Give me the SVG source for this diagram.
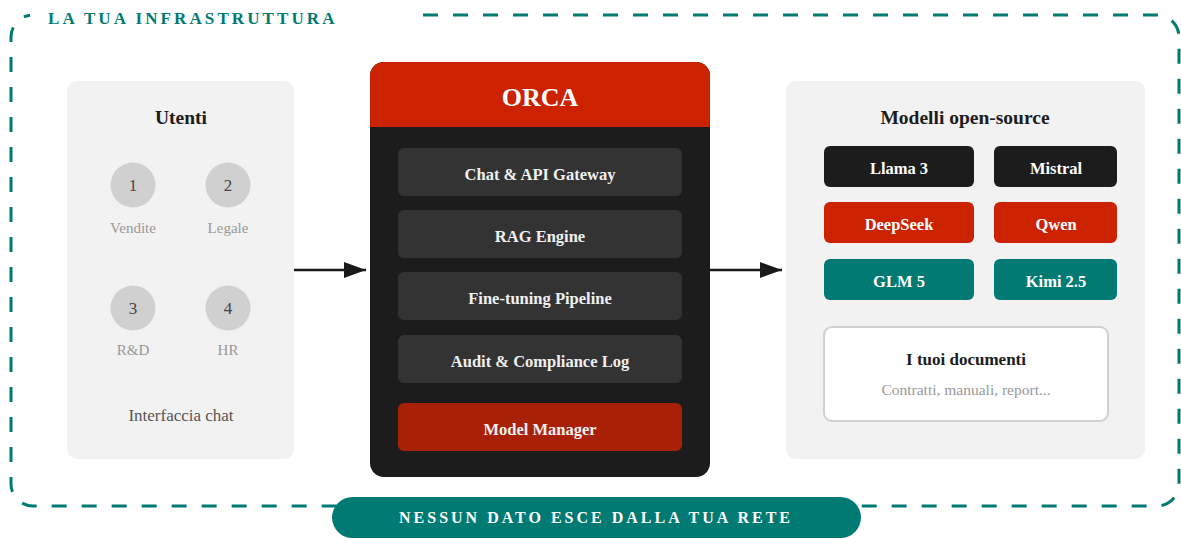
<svg xmlns="http://www.w3.org/2000/svg" width="1181" height="539" viewBox="0 0 1181 539">
<defs>
<style>
text{font-family:"Liberation Serif","DejaVu Serif",serif;text-anchor:middle}
.panel{fill:#f2f2f2}
.item{fill:#333333}
.itxt{fill:#f0f0f0;font-size:16.5px;font-weight:bold}
.mtxt{fill:#ffffff;font-size:16.5px;font-weight:bold}
.circ{fill:#d0d0d0}
.num{fill:#444;font-size:17px}
.dep{fill:#999;font-size:15px}
.title{fill:#1c1c1c;font-size:19.5px;font-weight:bold}
</style>
<marker id="ah" viewBox="0 0 22 16" refX="22" refY="8" markerWidth="22" markerHeight="16" markerUnits="userSpaceOnUse" orient="auto">
<path d="M0,0 L22,8 L0,16 Z" fill="#1a1a1a"/>
</marker>
</defs>
<rect width="1181" height="539" fill="#ffffff"/>
<g id="boundary">
<rect x="11" y="15" width="1168" height="491" rx="22" fill="none" stroke="#007a73" stroke-width="3" stroke-dasharray="15 15"/>
<rect x="30" y="4" width="378" height="24" fill="#ffffff"/>
<text x="48" y="24" style="text-anchor:start;font-size:17px;font-weight:bold;letter-spacing:3.1px;fill:#007a73">LA TUA INFRASTRUTTURA</text>
</g>
<g id="utenti">
<rect class="panel" x="67" y="81" width="227" height="378" rx="10"/>
<text class="title" x="181" y="124">Utenti</text>
<circle class="circ" cx="133" cy="185" r="22.5"/>
<text class="num" x="133" y="191">1</text>
<text class="dep" x="133" y="233">Vendite</text>
<circle class="circ" cx="228" cy="185" r="22.5"/>
<text class="num" x="228" y="191">2</text>
<text class="dep" x="228" y="233">Legale</text>
<circle class="circ" cx="133" cy="308" r="22.5"/>
<text class="num" x="133" y="314">3</text>
<text class="dep" x="133" y="355">R&amp;D</text>
<circle class="circ" cx="228" cy="308" r="22.5"/>
<text class="num" x="228" y="314">4</text>
<text class="dep" x="228" y="355">HR</text>
<text x="181" y="421" style="fill:#555;font-size:17px">Interfaccia chat</text>
</g>
<g id="orca">
<rect x="370" y="62" width="340" height="415" rx="14" fill="#1c1c1c"/>
<path d="M370,127 V76 A14,14 0 0 1 384,62 H696 A14,14 0 0 1 710,76 V127 Z" fill="#cc2200"/>
<text x="540" y="106" style="fill:#fff;font-size:26px;font-weight:bold">ORCA</text>
<rect class="item" x="398" y="148" width="284" height="48" rx="6"/>
<text class="itxt" x="540" y="180">Chat &amp; API Gateway</text>
<rect class="item" x="398" y="210" width="284" height="48" rx="6"/>
<text class="itxt" x="540" y="242">RAG Engine</text>
<rect class="item" x="398" y="272" width="284" height="48" rx="6"/>
<text class="itxt" x="540" y="304">Fine-tuning Pipeline</text>
<rect class="item" x="398" y="335" width="284" height="48" rx="6"/>
<text class="itxt" x="540" y="367">Audit &amp; Compliance Log</text>
<rect x="398" y="403" width="284" height="48" rx="6" fill="#a82008"/>
<text class="itxt" x="540" y="435">Model Manager</text>
</g>
<g id="modelli">
<rect class="panel" x="786" y="81" width="359" height="378" rx="10"/>
<text class="title" x="965" y="124">Modelli open-source</text>
<rect x="824" y="146" width="150" height="41" rx="6" fill="#1c1c1c"/>
<text class="mtxt" x="899" y="174">Llama 3</text>
<rect x="994" y="146" width="123" height="41" rx="6" fill="#1c1c1c"/>
<text class="mtxt" x="1056" y="174">Mistral</text>
<rect x="824" y="202" width="150" height="41" rx="6" fill="#cc2200"/>
<text class="mtxt" x="899" y="230">DeepSeek</text>
<rect x="994" y="202" width="123" height="41" rx="6" fill="#cc2200"/>
<text class="mtxt" x="1056" y="230">Qwen</text>
<rect x="824" y="259" width="150" height="41" rx="6" fill="#007a73"/>
<text class="mtxt" x="899" y="287">GLM 5</text>
<rect x="994" y="259" width="123" height="41" rx="6" fill="#007a73"/>
<text class="mtxt" x="1056" y="287">Kimi 2.5</text>
</g>
<g id="documenti">
<rect x="824" y="327" width="284" height="94" rx="8" fill="#ffffff" stroke="#d0d0d0" stroke-width="2"/>
<text x="966" y="365" style="fill:#1c1c1c;font-size:17px;font-weight:bold">I tuoi documenti</text>
<text x="966" y="395" style="fill:#999;font-size:15.5px">Contratti, manuali, report...</text>
</g>
<g id="connectors">
<line x1="294" y1="270" x2="366" y2="270" stroke="#1a1a1a" stroke-width="2.5" marker-end="url(#ah)"/>
<line x1="710" y1="270" x2="782" y2="270" stroke="#1a1a1a" stroke-width="2.5" marker-end="url(#ah)"/>
</g>
<g id="badge">
<rect x="332" y="497" width="529" height="41" rx="20.5" fill="#007a73"/>
<text x="596" y="523" style="fill:#fff;font-size:16px;font-weight:bold;letter-spacing:3px">NESSUN DATO ESCE DALLA TUA RETE</text>
</g>
</svg>
